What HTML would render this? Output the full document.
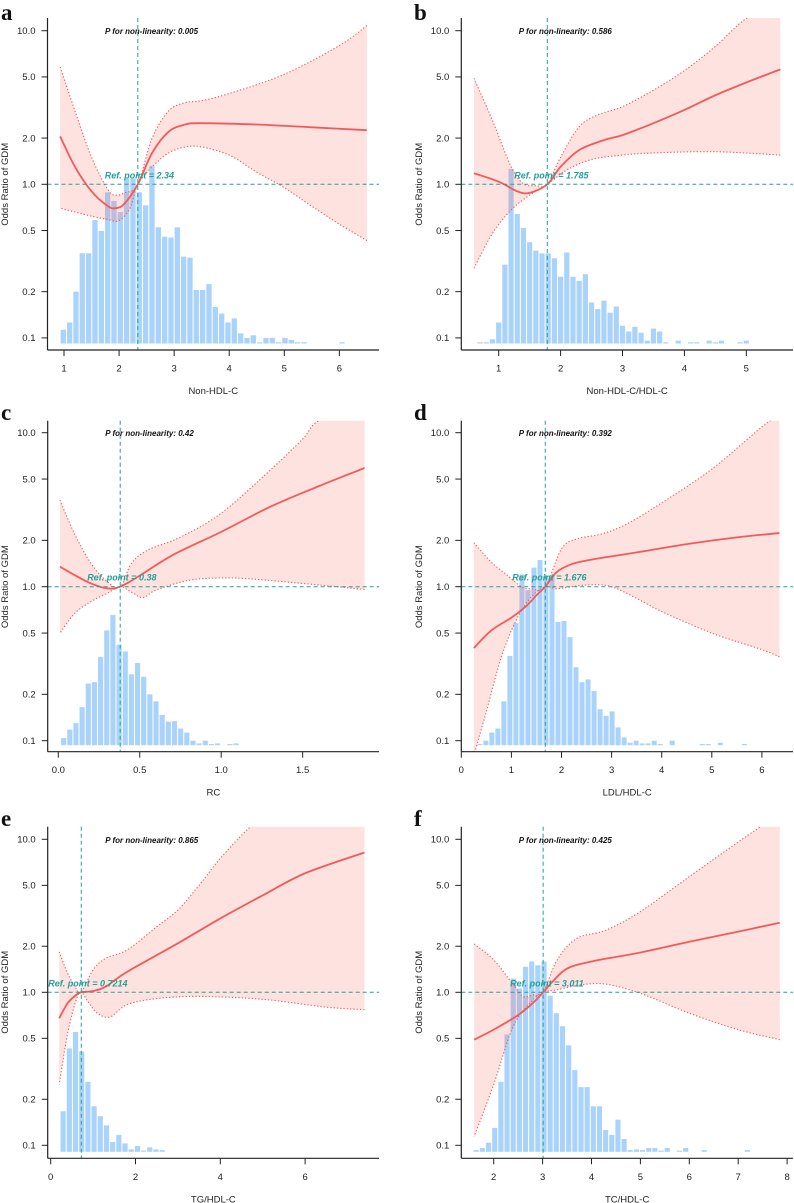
<!DOCTYPE html>
<html><head><meta charset="utf-8"><style>
html,body{margin:0;padding:0;background:#fff;}
svg{display:block;font-family:"Liberation Sans",sans-serif;}
</style></head><body>
<svg id="fig" width="794" height="1203" viewBox="0 0 794 1203" xmlns="http://www.w3.org/2000/svg"></svg>
<script>
// ---- Panel a: Non-HDL-C ----
const aFitX=[0.93,1.2,1.5,1.8,1.95,2.1,2.34,2.6,2.9,3.2,3.5,4.5,5.5,6.5];
const aFitOR=[2.05,1.3,0.9,0.72,0.70,0.75,1.0,1.6,2.2,2.45,2.5,2.45,2.35,2.25];
const aUpX=[0.93,1.2,1.5,1.8,1.95,2.1,2.34,2.6,2.9,3.2,3.5,4.0,5.0,6.0,6.5];
const aUpOR=[5.8,3.0,1.5,0.92,0.85,0.88,1.0,2.0,3.0,3.4,3.5,3.9,5.2,8.0,10.8];
const aLoX=[0.93,1.2,1.5,1.8,2.0,2.2,2.34,2.6,2.9,3.2,3.5,4.0,4.5,5.0,5.5,6.0,6.5];
const aLoOR=[0.7,0.66,0.62,0.59,0.58,0.7,1.0,1.3,1.6,1.75,1.75,1.55,1.2,0.95,0.72,0.55,0.43];
const aBars=[0.113,0.126,0.2,0.356,0.356,0.586,0.497,0.887,0.78,0.66,1.09,1.09,0.887,0.73,1.32,0.525,0.456,0.45,0.525,0.338,0.333,0.205,0.205,0.224,0.159,0.144,0.126,0.134,0.107,0.1,0.104,0.093,0.1,0.1,0.093,0.1,0.097,0.093,0.093,0,0,0,0,0,0.093];
const aBarStart=0.93, aBarWidth=0.115;
// ---- Panel b: Non-HDL-C/HDL-C ----
const bFitX=[0.6,1.0,1.3,1.5,1.785,2.0,2.3,2.7,3.0,3.5,4.0,4.5,5.0,5.55];
const bFitOR=[1.18,1.04,0.9,0.88,1.0,1.3,1.67,1.94,2.09,2.5,3.05,3.8,4.6,5.6];
const bUpX=[0.6,0.9,1.2,1.4,1.6,1.785,2.0,2.3,2.6,3.0,3.5,4.0,4.5,5.0,5.55];
const bUpOR=[4.9,2.6,1.3,1.01,0.98,1.0,1.5,2.37,2.83,3.2,4.1,5.5,7.9,12,15];
const bLoX=[0.6,0.9,1.2,1.5,1.785,2.1,2.5,3.0,3.5,4.5,5.55];
const bLoOR=[0.284,0.48,0.68,0.85,1.0,1.24,1.45,1.55,1.6,1.63,1.55];
const bBars=[0.093,0.093,0.098,0.126,0.30,1.26,0.64,0.52,0.42,0.37,0.355,0.355,0.33,0.25,0.36,0.25,0.235,0.26,0.17,0.154,0.175,0.146,0.16,0.12,0.11,0.118,0.108,0.096,0.115,0.11,0.093,0,0.096,0,0.093,0.093,0,0.096,0.093,0.096,0,0,0.093,0.096];
const bBarStart=0.65, bBarWidth=0.1;
// ---- Panel c: RC ----
const cFitX=[0.01,0.1,0.2,0.3,0.38,0.5,0.7,1.0,1.3,1.6,1.88];
const cFitOR=[1.35,1.19,1.05,0.975,1.0,1.18,1.6,2.27,3.3,4.5,5.9];
const cUpX=[0.01,0.1,0.2,0.3,0.38,0.45,0.55,0.75,1.0,1.3,1.5,1.6,1.88];
const cUpOR=[3.65,2.2,1.42,1.08,1.0,1.42,1.73,2.1,3.0,5.7,9.1,12,16];
const cLoX=[0.01,0.1,0.2,0.3,0.38,0.45,0.52,0.6,0.8,1.0,1.2,1.5,1.88];
const cLoOR=[0.5,0.67,0.8,0.905,1.0,0.92,0.85,0.95,1.1,1.14,1.12,1.05,0.96];
const cBars=[0.104,0.118,0.13,0.165,0.235,0.24,0.35,0.52,0.655,0.42,0.38,0.27,0.32,0.26,0.2,0.18,0.147,0.133,0.134,0.12,0.113,0.1,0.096,0.1,0.095,0.096,0,0.095,0.096];
const cBarStart=0.014, cBarWidth=0.0378;
// ---- Panel d: LDL/HDL-C ----
const dFitX=[0.25,0.6,1.0,1.3,1.5,1.676,1.9,2.2,2.6,3.5,4.5,5.5,6.35];
const dFitOR=[0.40,0.52,0.63,0.75,0.88,1.0,1.24,1.4,1.5,1.67,1.89,2.09,2.23];
const dUpX=[0.25,0.6,0.9,1.2,1.4,1.676,2.0,2.3,2.8,3.3,4.0,5.0,6.0,6.35];
const dUpOR=[1.93,1.44,1.2,1.0,0.97,1.0,1.76,2.04,2.2,2.55,3.5,5.8,10.9,13];
const dLoX=[0.25,0.5,0.8,1.1,1.4,1.676,1.9,2.2,2.6,3.0,3.5,4.0,5.0,6.0,6.35];
const dLoOR=[0.08,0.155,0.35,0.61,0.86,1.0,0.97,1.0,1.03,1.0,0.84,0.69,0.5,0.39,0.35];
const dBars=[0.094,0.1,0.113,0.12,0.18,0.355,0.58,1.2,0.95,1.33,1.49,1.18,1.17,0.59,0.6,0.47,0.3,0.24,0.25,0.21,0.16,0.145,0.155,0.122,0.105,0.097,0.1,0.096,0.096,0.1,0.094,0,0.1,0,0,0,0,0.093,0.093,0,0.097,0,0,0,0.093];
const dBarStart=0.31, dBarWidth=0.12;
// ---- Panel e: TG/HDL-C ----
const eFitX=[0.2,0.4,0.6,0.72,1.0,1.3,1.8,3.0,4.0,5.0,6.0,7.4];
const eFitOR=[0.676,0.85,0.96,1.0,1.02,1.09,1.36,2.09,3.04,4.3,6.0,8.2];
const eUpX=[0.2,0.4,0.6,0.72,1.0,1.3,1.8,2.5,3.0,3.5,4.0,4.7,5.5,7.4];
const eUpOR=[1.84,1.33,1.06,1.0,1.4,1.67,1.89,2.68,3.45,5.0,7.5,12,18,30];
const eLoX=[0.2,0.4,0.6,0.72,0.9,1.1,1.4,1.8,2.5,3.5,5.0,6.5,7.4];
const eLoOR=[0.25,0.54,0.89,1.0,0.85,0.73,0.69,0.83,0.91,0.94,0.9,0.8,0.77];
const eBars=[0.167,0.43,0.55,0.41,0.26,0.18,0.155,0.135,0.105,0.117,0.103,0.094,0.099,0.092,0.097,0.094,0.093];
const eBarStart=0.22, eBarWidth=0.146;
// ---- Panel f: TC/HDL-C ----
const fFitX=[1.6,2.0,2.5,2.8,3.011,3.2,3.5,4.0,5.0,6.0,7.0,7.85];
const fFitOR=[0.49,0.57,0.71,0.85,1.0,1.17,1.43,1.59,1.82,2.14,2.49,2.85];
const fUpX=[1.6,2.0,2.4,2.6,2.8,3.011,3.3,3.7,4.3,5.0,6.0,7.0,7.6,7.85];
const fUpOR=[2.07,1.63,1.12,0.94,0.96,1.0,1.63,2.25,2.55,3.37,5.7,9.6,13,15];
const fLoX=[1.6,2.0,2.4,2.8,3.011,3.3,3.8,4.3,5.0,6.0,7.0,7.85];
const fLoOR=[0.114,0.25,0.6,0.89,1.0,1.04,1.12,1.13,0.985,0.73,0.57,0.49];
const fBars=[0.093,0.096,0.104,0.13,0.26,0.53,1.23,1.06,1.47,1.59,1.5,1.59,0.95,0.73,0.6,0.45,0.31,0.24,0.24,0.18,0.18,0.126,0.117,0.147,0.11,0.093,0.094,0.093,0.096,0.096,0.092,0.096,0,0.092,0.096,0,0,0.093,0,0,0,0,0,0,0.093];
const fBarStart=1.58, fBarWidth=0.126;

const aTicks=[1,2,3,4,5,6], bTicks=[1,2,3,4,5], cTicks=[0,0.5,1.0,1.5], dTicks=[0,1,2,3,4,5,6], eTicks=[0,2,4,6], fTicks=[2,3,4,5,6,7,8];
const yTicks=[0.1,0.2,0.5,1.0,2.0,5.0,10.0];

const panels=[
 {id:'a',ax:47.5,top:18,xa:350,right:379,yOne:184.3,dec:153.6,x0:1,x0px:64,ppu:55.07,ticks:aTicks,dig:0,ref:2.34,refLab:'2.34',p:'0.005',title:'Non-HDL-C',fx:aFitX,fy:aFitOR,ux:aUpX,uy:aUpOR,lx:aLoX,ly:aLoOR,bars:aBars,bs:aBarStart,bw:aBarWidth,ly0:20},
 {id:'b',ax:461.3,top:18,xa:350,right:793,yOne:184.3,dec:153.6,x0:1,x0px:498.7,ppu:61.9,ticks:bTicks,dig:0,ref:1.785,refLab:'1.785',p:'0.586',title:'Non-HDL-C/HDL-C',fx:bFitX,fy:bFitOR,ux:bUpX,uy:bUpOR,lx:bLoX,ly:bLoOR,bars:bBars,bs:bBarStart,bw:bBarWidth,ly0:20},
 {id:'c',ax:47.7,top:420.7,xa:751.7,right:379,yOne:586.7,dec:154,x0:0,x0px:58.3,ppu:162.9,ticks:cTicks,dig:1,ref:0.38,refLab:'0.38',p:'0.42',title:'RC',fx:cFitX,fy:cFitOR,ux:cUpX,uy:cUpOR,lx:cLoX,ly:cLoOR,bars:cBars,bs:cBarStart,bw:cBarWidth,ly0:420},
 {id:'d',ax:461.3,top:420.7,xa:751.7,right:793,yOne:586.7,dec:154,x0:0,x0px:461.3,ppu:50.1,ticks:dTicks,dig:0,ref:1.676,refLab:'1.676',p:'0.392',title:'LDL/HDL-C',fx:dFitX,fy:dFitOR,ux:dUpX,uy:dUpOR,lx:dLoX,ly:dLoOR,bars:dBars,bs:dBarStart,bw:dBarWidth,ly0:420},
 {id:'e',ax:47.7,top:826.7,xa:1158.3,right:379,yOne:992.3,dec:153,x0:0,x0px:50.7,ppu:42.4,ticks:eTicks,dig:0,ref:0.7214,refLab:'0.7214',p:'0.865',title:'TG/HDL-C',fx:eFitX,fy:eFitOR,ux:eUpX,uy:eUpOR,lx:eLoX,ly:eLoOR,bars:eBars,bs:eBarStart,bw:eBarWidth,ly0:826},
 {id:'f',ax:461.3,top:826.7,xa:1158.3,right:793,yOne:992.3,dec:153,x0:2,x0px:493.7,ppu:48.9,ticks:fTicks,dig:0,ref:3.011,refLab:'3.011',p:'0.425',title:'TC/HDL-C',fx:fFitX,fy:fFitOR,ux:fUpX,uy:fUpOR,lx:fLoX,ly:fLoOR,bars:fBars,bs:fBarStart,bw:fBarWidth,ly0:826}
];

const NS='http://www.w3.org/2000/svg';
const svg=document.getElementById('fig');
function mk(tag,attrs,parent,text){const e=document.createElementNS(NS,tag);for(const k in attrs)e.setAttribute(k,attrs[k]);if(text!==undefined)e.textContent=text;(parent||svg).appendChild(e);return e;}
function segs(pts){let d='';for(let i=0;i<pts.length-1;i++){const p0=pts[i-1]||pts[i],p1=pts[i],p2=pts[i+1],p3=pts[i+2]||p2;
 const c1=[p1[0]+(p2[0]-p0[0])/6,p1[1]+(p2[1]-p0[1])/6],c2=[p2[0]-(p3[0]-p1[0])/6,p2[1]-(p3[1]-p1[1])/6];
 d+=` C${c1[0].toFixed(2)},${c1[1].toFixed(2)} ${c2[0].toFixed(2)},${c2[1].toFixed(2)} ${p2[0].toFixed(2)},${p2[1].toFixed(2)}`;}return d;}
function spline(pts){return `M${pts[0][0]},${pts[0][1]}`+segs(pts);}

const RED='#f25a5a', TEAL='#23a09a';
panels.forEach(P=>{
 const X=v=>P.x0px+(v-P.x0)*P.ppu;
 const Y=v=>P.yOne-P.dec*Math.log10(v);
 const g=mk('g',{});
 
 
 const clip=mk('clipPath',{id:'clip-'+P.id},g);
 mk('rect',{x:P.ax,y:P.top,width:P.right-P.ax,height:P.xa-P.top},clip);
 const plot=mk('g',{'clip-path':'url(#clip-'+P.id+')'},g);
 // bars
 const base=P.xa-6.5;
 const hb=mk('g',{},plot);
 
 
 P.bars.forEach((v,i)=>{ if(v<=0) return;
  const x1=X(P.bs+i*P.bw), x2=X(P.bs+(i+1)*P.bw);
  const yt=Math.min(Y(v),base-1.2);
  const r=mk('rect',{x:x1+0.5,y:yt,width:Math.max(0.5,x2-x1-1),height:base-yt,fill:'#a9d3fb'},hb);
  
  
 });
 // ribbon
 const up=P.ux.map((x,i)=>[X(x),Y(P.uy[i])]);
 const lo=P.lx.map((x,i)=>[X(x),Y(P.ly[i])]).reverse();
 const rib=mk('path',{d:spline(up)+` L${lo[0][0]},${lo[0][1]}`+segs(lo)+' Z',fill:'rgba(248,110,100,0.2)',stroke:'none'},plot);
 
 
 const ul=mk('path',{d:spline(up),fill:'none',stroke:RED,'stroke-width':1.1,'stroke-dasharray':'1.3,2'},plot);
 
 
 const ll=mk('path',{d:spline(lo),fill:'none',stroke:RED,'stroke-width':1.1,'stroke-dasharray':'1.3,2'},plot);
 
 
 const fit=mk('path',{d:spline(P.fx.map((x,i)=>[X(x),Y(P.fy[i])])),fill:'none',stroke:RED,'stroke-width':1.8},plot);
 
 
 // ref lines
 const hl=mk('line',{x1:P.ax,x2:P.right,y1:Y(1),y2:Y(1),stroke:TEAL,'stroke-width':1,'stroke-dasharray':'4,3'},g);
 
 
 const vl=mk('line',{x1:X(P.ref),x2:X(P.ref),y1:P.top,y2:P.xa,stroke:TEAL,'stroke-width':1,'stroke-dasharray':'4,3'},g);
 
 
 const rt=mk('text',{x:X(P.ref)-33,y:Y(1)-6,fill:TEAL,'font-size':9,'font-weight':'bold','font-style':'italic'},g,'Ref. point = '+P.refLab);
 
 
 const pt=mk('text',{x:P.ax+57.5,y:Y(10)+3.5,fill:'#111','font-size':8,'font-weight':'bold','font-style':'italic'},g,'P for non-linearity: '+P.p);
 
 
 // axes
 const ya=mk('line',{x1:P.ax,x2:P.ax,y1:P.top,y2:P.xa,stroke:'#222','stroke-width':1.2},g);
 
 
 const xl=mk('line',{x1:P.ax,x2:P.right,y1:P.xa,y2:P.xa,stroke:'#222','stroke-width':1.2},g);
 
 
 yTicks.forEach(v=>{const y=Y(v);
  mk('line',{x1:P.ax-6,x2:P.ax,y1:y,y2:y,stroke:'#222','stroke-width':1},g);
  const t=mk('text',{x:P.ax-12,y:y+3.3,'text-anchor':'end','font-size':9.5,fill:'#222'},g,v.toFixed(1));
  
  
 });
 P.ticks.forEach(v=>{const x=X(v);
  mk('line',{x1:x,x2:x,y1:P.xa,y2:P.xa+6,stroke:'#222','stroke-width':1},g);
  const t=mk('text',{x:x,y:P.xa+21.5,'text-anchor':'middle','font-size':9.5,fill:'#222'},g,v.toFixed(P.dig));
  
  
 });
 const xt=mk('text',{x:(P.ax+P.right)/2,y:P.xa+44,'text-anchor':'middle','font-size':9.5,fill:'#222'},g,P.title);
 
 
 const lx=P.ax-39.5, ly=Y(1);
 const yt=mk('text',{x:lx,y:ly,'text-anchor':'middle','font-size':9.5,fill:'#222',transform:`rotate(-90 ${lx} ${ly})`},g,'Odds Ratio of GDM');
 
 
 const lt=mk('text',{x:P.ax<100?1:414,y:P.ly0,'font-size':23,'font-weight':'bold','font-family':'"Liberation Serif",serif',fill:'#111'},g,P.id);
 
 
});
</script>
</body></html>
